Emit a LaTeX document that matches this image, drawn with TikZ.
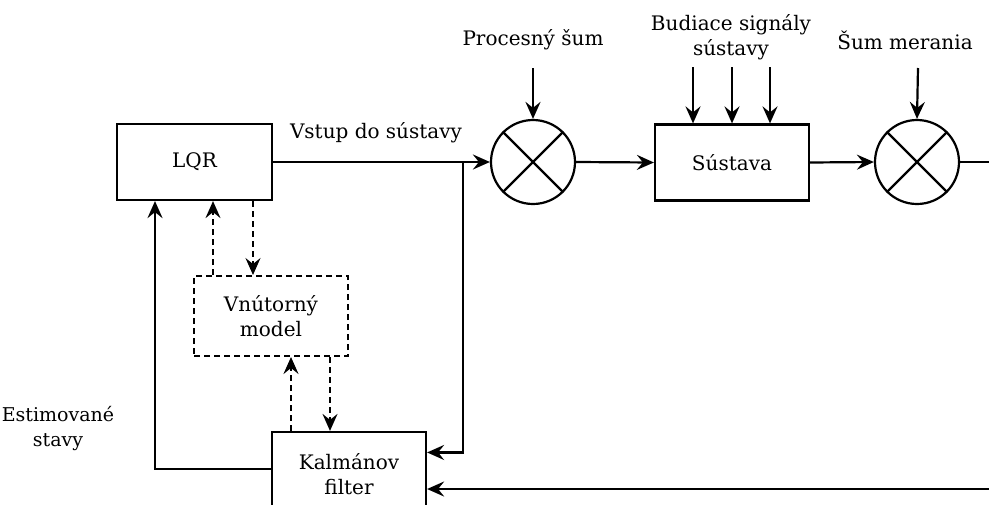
\documentclass[tikz,border=0pt]{standalone}
\usepackage{fontspec}
\setmainfont{DejaVu Serif}
\usetikzlibrary{arrows.meta,positioning,calc}
\begin{document}
\begin{tikzpicture}[x=1pt,y=-1pt,
  line width=2.2pt,
  every node/.style={font=\fontsize{20}{25}\selectfont},
  blockbox/.style={draw,line width=2.2pt,minimum width=155pt,minimum height=76pt,inner sep=0pt,align=center},
  dashbox/.style={draw,dash pattern=on 6pt off 4pt,line width=2pt,minimum width=154pt,minimum height=80pt,inner sep=0pt,align=center},
  sumnode/.style={draw,circle,line width=2.2pt,minimum size=84pt,inner sep=0pt},
  lbl/.style={align=center,inner sep=0pt},
  arr/.style={-{Stealth[length=17pt,width=15pt,inset=6pt]}},
  darr/.style={arr,line width=2pt,dash pattern=on 6pt off 4pt}]
\useasboundingbox (0,0) rectangle (989,504);
\clip (0,0) rectangle (989,504);
% blocks
\node[blockbox] (lqr) at (194.5,162) {LQR};
\node[blockbox,minimum width=154pt] (sys) at (732,162.5) {Sústava};
\node[blockbox,minimum width=154pt,minimum height=84pt] (kf) at (349,474) {Kalmánov\\filter};
\node[dashbox] (vm) at (271,316) {Vnútorný\\model};
\node[sumnode] (c1) at (533,162) {};
\node[sumnode] (c2) at (917,162) {};
\foreach \c in {c1,c2}{
  \draw (\c.center) -- (\c.45) (\c.center) -- (\c.135) (\c.center) -- (\c.225) (\c.center) -- (\c.315);
}
% labels
\node[lbl] (tproc) at (533,40) {Procesný šum};
\node[lbl] (tbud) at (731,37) {Budiace signály\\sústavy};
\node[lbl] (tsum) at (905,40) {Šum merania};
\node[lbl] (tvstup) at (376,133) {Vstup do sústavy};
\node[lbl,font=\fontsize{19}{25}\selectfont] (test) at (58,429) {Estimované\\stavy};
% coordinates
\coordinate (pin) at (533,68);
\coordinate (min) at (918,68);
\coordinate (b1) at (693,67);
\coordinate (b2) at (732,67);
\coordinate (b3) at (770,67);
\coordinate (br) at (463,162);
\coordinate (rt) at (1000,162);
\coordinate (rb) at (1000,489);
% connectors
\draw[arr] (lqr.east) -- (c1.west);
\draw[arr] (br) |- ($(kf.north east)!0.25!(kf.south east)$);
\draw[arr] (c1.east) -- (sys.west);
\draw[arr] (sys.east) -- (c2.west);
\draw[arr] (pin) -- (c1.north);
\draw[arr] (min) -- (c2.north);
\draw[arr] (b1) -- (b1 |- sys.north);
\draw[arr] (b2) -- (b2 |- sys.north);
\draw[arr] (b3) -- (b3 |- sys.north);
\draw[arr] (c2.east) -- (rt) -- (rb) -- (rb -| kf.east);
\draw[arr] (kf.west |- 0,469) -| (lqr.south -| 155,0);
\draw[darr] (vm.north -| 213,0) -- (lqr.south -| 213,0);
\draw[darr] (lqr.south -| 253,0) -- (vm.north -| 253,0);
\draw[darr] (kf.north -| 291,0) -- (vm.south -| 291,0);
\draw[darr] (vm.south -| 330,0) -- (kf.north -| 330,0);
\end{tikzpicture}
\end{document}
